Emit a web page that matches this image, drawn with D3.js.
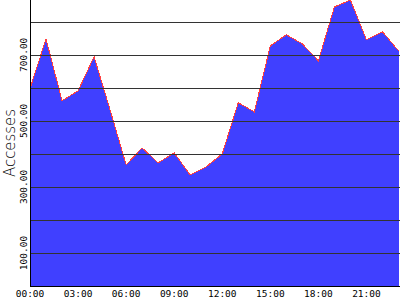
<!DOCTYPE html>
<html>
<head>
<meta charset="utf-8">
<script src="https://cdn.jsdelivr.net/npm/d3@7"></script>
<style>
  body { margin: 0; background: #fff; }
  svg { display: block; }
</style>
</head>
<body>
<div id="chart"></div>
<script>
// hourly accesses
const hours = d3.range(24)
const accesses = [597, 748, 561, 591, 694, 533, 367, 418, 373, 403, 336, 361,
                  400, 555, 527, 727, 761, 733, 682, 845, 866, 745, 770, 712]
const gridValues = [100, 200, 300, 400, 500, 600, 700, 800]
const yTickValues = [100, 300, 500, 700]
const xTickHours = [0, 3, 6, 9, 12, 15, 18, 21]

const WIDTH = 400
const HEIGHT = 300
const LEFT = 30
const BOTTOM = 286

const svg = d3.select("#chart")
  .append("svg")
  .attr("width", WIDTH)
  .attr("height", HEIGHT)

const x = d3.scaleLinear().domain([0, 23]).range([LEFT, 398.5])
const y = d3.scaleLinear().domain([0, 866]).range([BOTTOM, 0])

const data = hours.map((h, i) => ({ h: h, v: accesses[i] }))

// filled area
svg.append("path")
  .datum(data)
  .attr("d", d3.area().x(d => x(d.h)).y0(BOTTOM).y1(d => y(d.v)))
  .attr("fill", "#4040ff")
  .attr("shape-rendering", "crispEdges")

svg.append("path")
  .datum(data)
  .attr("d", d3.line().x(d => x(d.h)).y(d => y(d.v)))
  .attr("fill", "none")
  .attr("stroke", "#ff4040")
  .attr("stroke-width", 1)
  .attr("shape-rendering", "crispEdges")

// grid lines
svg.selectAll(".grid")
  .data(gridValues)
  .enter()
  .append("line")
  .attr("class", "grid")
  .attr("x1", LEFT)
  .attr("x2", WIDTH)
  .attr("y1", d => Math.round(y(d)) + 0.5)
  .attr("y2", d => Math.round(y(d)) + 0.5)
  .attr("stroke", "#333")
  .attr("stroke-width", 1)

// axes lines
svg.append("line")
  .attr("x1", LEFT + 0.5).attr("x2", LEFT + 0.5)
  .attr("y1", 0).attr("y2", BOTTOM + 1)
  .attr("stroke", "#000")
svg.append("line")
  .attr("x1", LEFT).attr("x2", WIDTH)
  .attr("y1", BOTTOM + 0.5).attr("y2", BOTTOM + 0.5)
  .attr("stroke", "#000")

// y tick labels (rotated)
svg.selectAll(".ylab")
  .data(yTickValues)
  .enter()
  .append("text")
  .attr("class", "ylab")
  .attr("transform", d => `translate(27, ${y(d)}) rotate(-90)`)
  .attr("text-anchor", "middle")
  .style("font-family", "DejaVu Sans Mono")
  .style("font-size", "9.5px")
  .text(d => d3.format(".2f")(d))

// x tick labels
svg.selectAll(".xlab")
  .data(xTickHours)
  .enter()
  .append("text")
  .attr("class", "xlab")
  .attr("x", d => x(d))
  .attr("y", 297)
  .attr("text-anchor", "middle")
  .style("font-family", "DejaVu Sans Mono")
  .style("font-size", "9.5px")
  .text(d => d3.format("02d")(d) + ":00")

// axis title
svg.append("text")
  .attr("transform", "translate(15, 143) rotate(-90)")
  .attr("text-anchor", "middle")
  .attr("textLength", 68)
  .attr("lengthAdjust", "spacingAndGlyphs")
  .style("font-family", "DejaVu Sans")
  .style("font-weight", 200)
  .style("font-size", "16px")
  .text("Accesses")
</script>
</body>
</html>
